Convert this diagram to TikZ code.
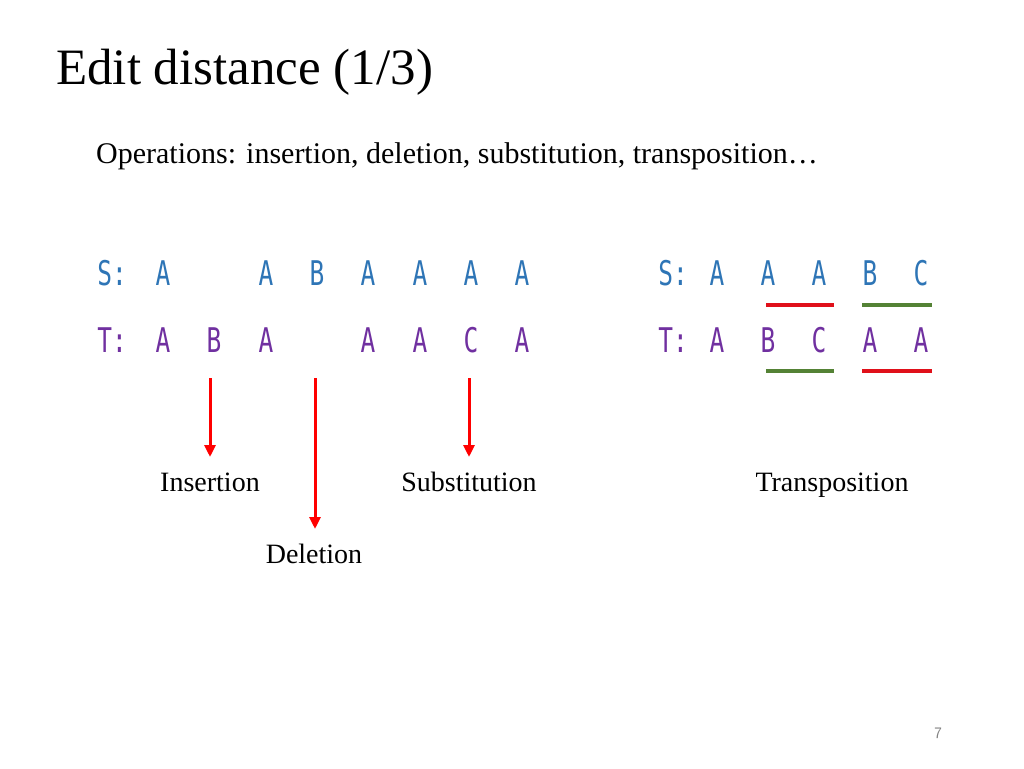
\documentclass[tikz,border=0pt]{standalone}
\usepackage{fontspec}
\setmainfont{Liberation Serif}
\newfontfamily\seqfont{DejaVu Sans Mono}
\usetikzlibrary{arrows.meta}
\definecolor{sblue}{HTML}{2E75B6}
\definecolor{tpurple}{HTML}{7030A0}
\definecolor{barred}{HTML}{E0101A}
\definecolor{bargreen}{HTML}{548235}
\tikzset{
seq/.style = {font=\seqfont\fontsize{34}{34}\selectfont, xscale=0.72, inner sep=0pt},
sletter/.style = {seq, text=sblue},
tletter/.style = {seq, text=tpurple},
opname/.style = {font=\fontsize{28}{28}\selectfont, inner sep=0pt},
oparrow/.style = {-{Triangle[length=12pt,width=11pt]}, line width=3pt, draw=red},
bar/.style = {line width=4pt}
}
\begin{document}
\begin{tikzpicture}[x=1pt,y=-1pt]
  \useasboundingbox[fill=white] (0,0) rectangle (1024,768);

  % TITULO
  \node[anchor=west, font=\fontsize{51}{51}\selectfont, inner sep=0pt] (title) at (56,72) {Edit distance (1/3)};
  \node[anchor=west, font=\fontsize{30}{30}\selectfont, inner sep=0pt] (ops) at (96,156) {Operations: insertion, deletion, substitution, transposition\dots};

  % SEQUENCIAS (esquerda)
  \node[sletter] (sl) at (112,273) {S:};
  \node[tletter] (tl) at (112,340) {T:};
  \foreach \x/\c [count=\i] in {163/A,266/A,317/B,368/A,420/A,471/A,522/A}
    \node[sletter] (s\i) at (\x,273) {\c};
  \foreach \x/\c [count=\i] in {163/A,214/B,266/A,368/A,420/A,471/C,522/A}
    \node[tletter] (t\i) at (\x,340) {\c};

  % SEQUENCIAS (direita)
  \node[sletter] (sr) at (673,273) {S:};
  \node[tletter] (tr) at (673,340) {T:};
  \foreach \x/\c [count=\i] in {717/A,768/A,819/A,870/B,921/C}
    \node[sletter] (u\i) at (\x,273) {\c};
  \foreach \x/\c [count=\i] in {717/A,768/B,819/C,870/A,921/A}
    \node[tletter] (v\i) at (\x,340) {\c};

  % TRANSPOSICAO
  \coordinate (p1) at (766,305); \coordinate (p2) at (834,305);
  \coordinate (p3) at (862,305); \coordinate (p4) at (932,305);
  \coordinate (q1) at (766,371); \coordinate (q2) at (834,371);
  \coordinate (q3) at (862,371); \coordinate (q4) at (932,371);
  \draw[bar, barred] (p1) -- (p2);
  \draw[bar, bargreen] (p3) -- (p4);
  \draw[bar, bargreen] (q1) -- (q2);
  \draw[bar, barred] (q3) -- (q4);

  % OPERACOES
  \node[opname] (ins) at (210,482) {Insertion};
  \node[opname] (sub) at (469,482) {Substitution};
  \node[opname] (del) at (314,554) {Deletion};
  \node[opname] (tra) at (832,485) {Transposition};
  \coordinate (a1) at (210,378); \coordinate (b1) at (210,457);
  \coordinate (a2) at (315,378); \coordinate (b2) at (315,529);
  \coordinate (a3) at (469,378); \coordinate (b3) at (469,457);
  \draw[oparrow] (a1) -- (b1);
  \draw[oparrow] (a2) -- (b2);
  \draw[oparrow] (a3) -- (b3);

  \node[font=\sffamily\fontsize{16}{16}\selectfont, text=gray] (page) at (938,733) {7};
\end{tikzpicture}
\end{document}
